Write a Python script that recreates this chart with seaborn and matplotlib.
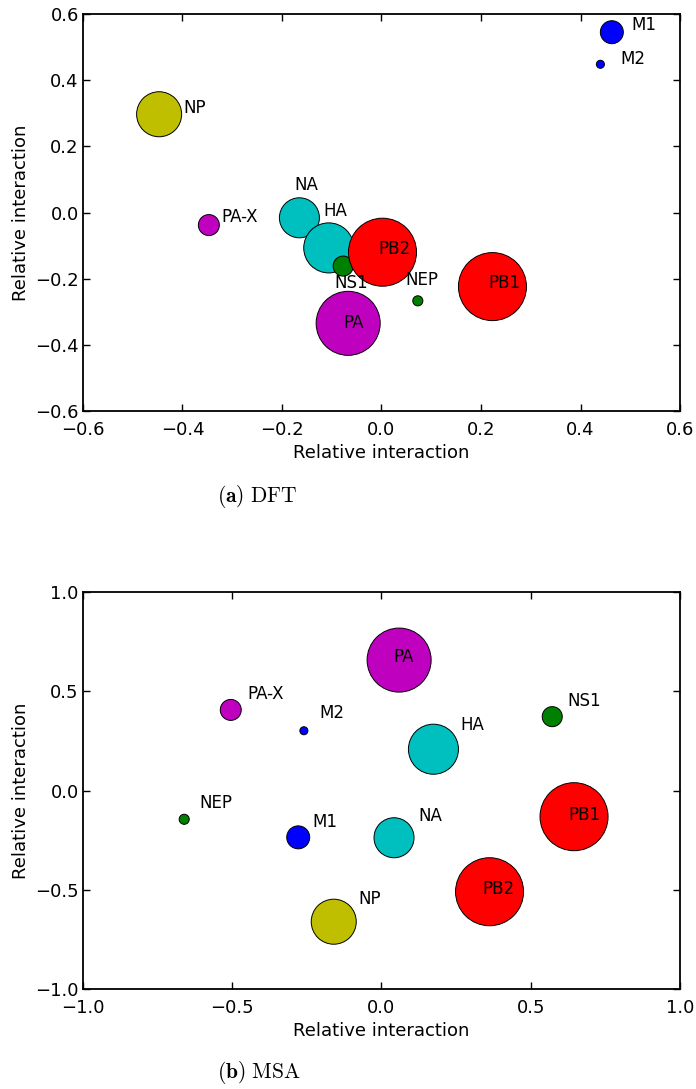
import pandas as pd
import matplotlib
matplotlib.use("Agg")
import matplotlib.pyplot as plt
import seaborn as sns

# proteins and their bubble weight (relative area)
names = ['NP', 'PA-X', 'NA', 'HA', 'NS1', 'PB2', 'NEP', 'PA', 'PB1', 'M1', 'M2']
weight = [0.438, 0.095, 0.346, 0.541, 0.087, 1.0, 0.022, 0.886, 1.0, 0.114, 0.014]

# (a) DFT
dft_x = [-0.447, -0.347, -0.165, -0.106, -0.077, 0.002, 0.073, -0.067, 0.223, 0.463, 0.440]
dft_y = [0.297, -0.038, -0.016, -0.107, -0.162, -0.120, -0.267, -0.335, -0.224, 0.545, 0.448]

# (b) MSA
msa_x = [-0.160, -0.505, 0.042, 0.174, 0.572, 0.362, -0.661, 0.059, 0.645, -0.279, -0.260]
msa_y = [-0.661, 0.406, -0.238, 0.208, 0.372, -0.510, -0.145, 0.657, -0.132, -0.236, 0.301]

colors = {
    'NP': (0.75, 0.75, 0), 'PA-X': (0.75, 0, 0.75), 'NA': (0, 0.75, 0.75),
    'HA': (0, 0.75, 0.75), 'NS1': (0, 0.5, 0), 'PB2': (1, 0, 0),
    'NEP': (0, 0.5, 0), 'PA': (0.75, 0, 0.75), 'PB1': (1, 0, 0),
    'M1': (0, 0, 1), 'M2': (0, 0, 1),
}

# label offsets from the bubble centre, in pixels (dx right, dy down)
off_dft = {'NP': (36, -6), 'PA-X': (31, -8), 'NA': (7, -33), 'HA': (7, -37),
           'NS1': (8, 17), 'PB2': (12, -3), 'NEP': (4, -21), 'PA': (5, 0),
           'PB1': (12, -4), 'M1': (32, -7), 'M2': (32, -5)}
off_msa = {'NP': (36, -23), 'PA-X': (35, -16), 'NA': (36, -22), 'HA': (39, -24),
           'NS1': (32, -16), 'PB2': (9, -3), 'NEP': (32, -16), 'PA': (5, -3),
           'PB1': (10, -2), 'M1': (27, -15), 'M2': (28, -18)}

sns.set_style('ticks')
plt.rcParams.update({
    'font.family': ['DejaVu Sans'],
    'text.color': 'black', 'axes.labelcolor': 'black',
    'xtick.direction': 'in', 'ytick.direction': 'in',
    'xtick.top': True, 'ytick.right': True,
    'xtick.major.size': 5, 'ytick.major.size': 5,
    'xtick.major.width': 1.0, 'ytick.major.width': 1.0,
    'axes.linewidth': 1.3, 'axes.edgecolor': 'black',
    'xtick.color': 'black', 'ytick.color': 'black',
    'xtick.labelcolor': 'black', 'ytick.labelcolor': 'black',
    'mathtext.fontset': 'cm',
})

fig = plt.figure(figsize=(6.96, 10.89), dpi=100)


def draw(ax, xs, ys, offsets, lim, ticks, caption, cap_y):
    df = pd.DataFrame({'name': names, 'x': xs, 'y': ys, 'w': weight})
    sns.scatterplot(data=df, x='x', y='y', hue='name', palette=colors,
                    size='w', sizes=(0, 2400), size_norm=(0, 1),
                    edgecolor='black', linewidth=0.7, alpha=1,
                    legend=False, ax=ax, zorder=2)
    for n, x, y in zip(names, xs, ys):
        dx, dy = offsets[n]
        ax.annotate(n, (x, y), xytext=(dx * 0.72, -dy * 0.72),
                    textcoords='offset points', ha='center', va='center',
                    fontsize=12, color='black', zorder=3)
    ax.set_xlim(lim)
    ax.set_ylim(lim)
    ax.set_xticks(ticks)
    ax.set_yticks(ticks)
    ax.set_xlabel('Relative interaction', fontsize=13, labelpad=4)
    ax.set_ylabel('Relative interaction', fontsize=13, labelpad=4)
    ax.tick_params(axis='x', labelsize=13, pad=7)
    ax.tick_params(axis='y', labelsize=13, pad=3)
    fig.text(217 / 696, cap_y, caption, ha='left', va='center', fontsize=15.5)


ax1 = fig.add_axes([83 / 696, 1 - 411 / 1089, 597 / 696, 397 / 1089])
draw(ax1, dft_x, dft_y, off_dft, (-0.6, 0.6),
     [-0.6, -0.4, -0.2, 0.0, 0.2, 0.4, 0.6],
     r'$\mathbf{(a)}\ \mathrm{DFT}$', 1 - 496 / 1089)

ax2 = fig.add_axes([83 / 696, 1 - 989 / 1089, 597 / 696, 397 / 1089])
draw(ax2, msa_x, msa_y, off_msa, (-1.0, 1.0),
     [-1.0, -0.5, 0.0, 0.5, 1.0],
     r'$\mathbf{(b)}\ \mathrm{MSA}$', 1 - 1073 / 1089)

fig.savefig('out.png', dpi=100)
